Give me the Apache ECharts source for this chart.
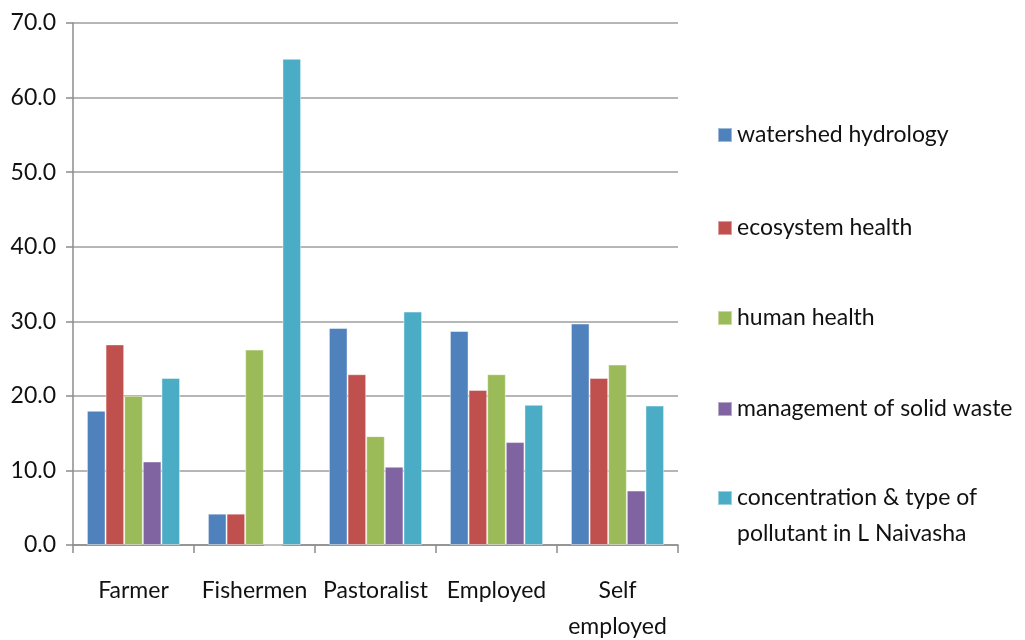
<!DOCTYPE html>
<html>
<head>
<meta charset="utf-8">
<script src="https://cdn.jsdelivr.net/npm/echarts@6/dist/echarts.min.js"></script>
<style>
  html, body { margin: 0; padding: 0; background: #fff; }
  #chart { width: 1025px; height: 640px; }
</style>
</head>
<body>
<div id="chart"></div>
<script>
// categories and series values
const categories = ['Farmer', 'Fishermen', 'Pastoralist', 'Employed', 'Self\nemployed'];
const seriesNames = [
  'watershed hydrology',
  'ecosystem health',
  'human health',
  'management of solid waste',
  'concentration & type of\npollutant in L Naivasha'
];
const watershed = [18.0, 4.2, 29.1, 28.7, 29.7];
const ecosystem = [26.9, 4.2, 22.9, 20.8, 22.4];
const humanHealth = [20.0, 26.2, 14.6, 22.9, 24.2];
const solidWaste = [11.2, 0, 10.5, 13.8, 7.3];
const pollutant = [22.4, 65.2, 31.3, 18.8, 18.7];
const yTicks = [0, 10, 20, 30, 40, 50, 60, 70];

const colors = ['#4F81BD', '#C0504D', '#9BBB59', '#8064A2', '#4BACC6'];
const values = [watershed, ecosystem, humanHealth, solidWaste, pollutant];

const chart = echarts.init(document.getElementById('chart'));
const font = 'Lato';

// one legend per item so the two-line label keeps its marker on the first line
// (a blank line on top of the two-line label pushes the text down)
const legendTops = [123, 216, 306, 397, 444];
const legends = seriesNames.map((name, i) => {
  const twoLine = name.indexOf('\n') >= 0;
  return {
    data: [name],
    orient: 'vertical',
    left: 717,
    top: legendTops[i],
    padding: 0,
    icon: 'rect',
    itemWidth: 14,
    itemHeight: 14,
    selectedMode: false,
    formatter: (n) => (twoLine ? ' \n' + n : n),
    textStyle: {
      fontFamily: font,
      fontSize: 23,
      color: '#111',
      lineHeight: twoLine ? 36 : 24
    }
  };
});

const option = {
  backgroundColor: '#fff',
  animation: false,
  color: colors,
  legend: legends,
  grid: { left: 73, right: 347, top: 23, bottom: 95, containLabel: false, outerBoundsMode: 'none' },
  xAxis: {
    type: 'category',
    data: categories,
    axisLine: { lineStyle: { color: '#8c8c8c', width: 1.5 } },
    axisTick: { show: true, length: 8, lineStyle: { color: '#8c8c8c', width: 1.5 } },
    axisLabel: {
      fontFamily: font, fontSize: 23, color: '#111',
      lineHeight: 36, margin: 28, interval: 0
    }
  },
  yAxis: {
    type: 'value',
    min: yTicks[0],
    max: yTicks[yTicks.length - 1],
    interval: 10,
    axisLine: { show: true, lineStyle: { color: '#8c8c8c', width: 1.5 } },
    axisTick: { show: true, length: 7, lineStyle: { color: '#8c8c8c', width: 1.5 } },
    axisLabel: {
      fontFamily: font, fontSize: 23, color: '#111', margin: 17,
      formatter: (v) => v.toFixed(1)
    },
    splitLine: { lineStyle: { color: '#9e9e9e', width: 1.5 } }
  },
  series: seriesNames.map((name, i) => ({
    name: name,
    type: 'bar',
    data: values[i],
    barGap: '0%',
    barCategoryGap: '23%',
    itemStyle: { borderColor: 'rgba(255,255,255,0.45)', borderWidth: 1 }
  }))
};
chart.setOption(option);
</script>
</body>
</html>
